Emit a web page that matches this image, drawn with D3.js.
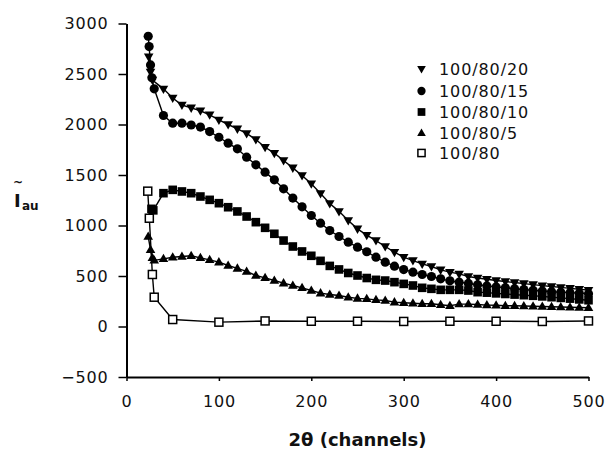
<!DOCTYPE html>
<html><head><meta charset="utf-8">
<script src="https://cdn.jsdelivr.net/npm/d3@7"></script>
<style>
html,body{margin:0;padding:0;background:#fff;}
svg{display:block;}
.tick text{font-family:"DejaVu Sans",sans-serif;font-size:16px;letter-spacing:0.8px;fill:#111;}
</style></head>
<body><svg id="c" width="606" height="450"></svg>
<script>
// ---- data ----
const seriesNames = ["100/80/20", "100/80/15", "100/80/10", "100/80/5", "100/80"];
const channels = [40,50,60,70,80,90,100,110,120,130,140,150,160,170,180,190,200,210,220,230,240,250,260,270,280,290,300,310,320,330,340,350,360,370,380,390,400,410,420,430,440,450,460,470,480,490,500];

const x20 = [24, 26, 28].concat(channels);
const y20 = [2670, 2520, 2440,
  2353, 2262, 2193, 2165, 2136, 2096, 2046, 2000, 1957, 1912, 1851, 1775, 1716, 1644, 1571, 1495, 1413, 1317, 1218, 1140, 1050, 967, 905, 851, 792, 736, 686, 653, 620, 594, 561, 538, 521, 495, 480, 468, 456, 445, 435, 425, 415, 405, 396, 387, 378, 369, 360];

const x15 = [23.5, 24.5, 26, 27.5, 30].concat(channels);
const y15 = [2874, 2772, 2590, 2462, 2353,
  2089, 2013, 2013, 1995, 1975, 1930, 1874, 1815, 1759, 1676, 1601, 1528, 1452, 1363, 1272, 1185, 1099, 1023, 950, 891, 835, 785, 740, 686, 637, 597, 564, 538, 515, 495, 472, 452, 439, 426, 413, 402, 392, 383, 374, 366, 358, 351, 345, 340, 335, 330, 325];

const x10 = [27, 29].concat(channels);
const y10 = [1165, 1150,
  1320, 1353, 1337, 1320, 1287, 1254, 1221, 1181, 1139, 1089, 1033, 977, 918, 851, 792, 743, 700, 650, 600, 565, 530, 505, 480, 462, 455, 439, 422, 406, 383, 373, 363, 363, 363, 356, 340, 335, 328, 322, 316, 310, 304, 298, 290, 283, 276, 268, 260];

const x5 = [23.5, 26, 28, 30].concat(channels);
const y5 = [891, 760, 680, 655,
  670, 686, 693, 700, 680, 660, 637, 604, 575, 545, 505, 482, 455, 429, 406, 383, 356, 330, 317, 307, 290, 278, 274, 264, 257, 241, 235, 230, 225, 225, 215, 205, 222, 222, 218, 212, 210, 206, 205, 203, 200, 198, 195, 193, 190, 188, 185];

const x0 = [23, 24.7, 28, 30, 50, 100, 150, 200, 250, 300, 350, 400, 450, 500];
const y0 = [1340, 1072, 515, 290, 69, 43, 55, 52, 52, 50, 52, 52, 50, 55];

const xTicks = [0, 100, 200, 300, 400, 500];
const yTicks = [-500, 0, 500, 1000, 1500, 2000, 2500, 3000];
const yTickLabels = ["\u2212500", "0", "500", "1000", "1500", "2000", "2500", "3000"];

// ---- drawing ----
const svg = d3.select("#c");
const x = d3.scaleLinear().domain([0, 500]).range([126.5, 588.5]);
const y = d3.scaleLinear().domain([-500, 3000]).range([377, 23.5]);

const gx = svg.append("g").attr("transform", "translate(0,377)")
  .call(d3.axisBottom(x).tickValues(xTicks).tickSize(4).tickSizeOuter(0).tickPadding(14.5));
const gy = svg.append("g").attr("transform", "translate(126.5,0)")
  .call(d3.axisLeft(y).tickValues(yTicks).tickFormat((d,i)=>yTickLabels[i]).tickSize(8).tickSizeOuter(0).tickPadding(10));
[gx, gy].forEach(g => {
  g.select(".domain").attr("stroke", "#000").attr("stroke-width", 2);
  g.selectAll(".tick line").attr("stroke", "#000").attr("stroke-width", 1.5);
});

const series = [
  {name: seriesNames[0], xs: x20, ys: y20, sym: "tdown"},
  {name: seriesNames[1], xs: x15, ys: y15, sym: "circle"},
  {name: seriesNames[2], xs: x10, ys: y10, sym: "square"},
  {name: seriesNames[3], xs: x5, ys: y5, sym: "tup"},
  {name: seriesNames[4], xs: x0, ys: y0, sym: "open"}
];

function marker(g, sym, cx, cy, s) {
  s = s || 1;
  if (sym === "circle") {
    g.append("circle").attr("cx", cx).attr("cy", cy).attr("r", 4.6*s).attr("fill", "#000");
  } else if (sym === "square") {
    const h = 4.3*s;
    g.append("rect").attr("x", cx-h).attr("y", cy-h).attr("width", 2*h).attr("height", 2*h).attr("fill", "#000");
  } else if (sym === "open") {
    const h = 4*s;
    g.append("rect").attr("x", cx-h).attr("y", cy-h).attr("width", 2*h).attr("height", 2*h)
      .attr("fill", "#fff").attr("stroke", "#000").attr("stroke-width", 1.5);
  } else if (sym === "tdown") {
    const w = 4.8*s, hh = 4.6*s;
    g.append("path").attr("d", `M${cx-w},${cy-hh*0.7}L${cx+w},${cy-hh*0.7}L${cx},${cy+hh*1.1}Z`).attr("fill", "#000");
  } else if (sym === "tup") {
    const w = 4.8*s, hh = 4.6*s;
    g.append("path").attr("d", `M${cx-w},${cy+hh*0.7}L${cx+w},${cy+hh*0.7}L${cx},${cy-hh*1.1}Z`).attr("fill", "#000");
  }
}

const line = d3.line().x(d => x(d[0])).y(d => y(d[1]));
const plot = svg.append("g");
// draw lower series first so upper ones overlap
series.slice().reverse().forEach(s => {
  const pts = s.xs.map((v, i) => [v, s.ys[i]]);
  plot.append("path").datum(pts).attr("d", line).attr("fill", "none").attr("stroke", "#000").attr("stroke-width", 1.4);
  const mg = plot.append("g");
  pts.forEach(p => marker(mg, s.sym, x(p[0]), y(p[1])));
});

// legend
const legY = [69, 91, 112, 133, 153];
const leg = svg.append("g");
series.forEach((s, i) => {
  marker(leg, s.sym, 421.5, legY[i], 0.9);
  leg.append("text").attr("x", 439).attr("y", legY[i]).attr("dy", "0.36em")
    .attr("font-family", "DejaVu Sans, sans-serif").attr("font-size", 16).attr("letter-spacing", "0.9px")
    .attr("fill", "#111").text(s.name);
});

// axis titles
svg.append("text").attr("x", 357.5).attr("y", 446).attr("text-anchor", "middle")
  .attr("font-family", "DejaVu Sans, sans-serif").attr("font-weight", "bold").attr("font-size", 18)
  .attr("fill", "#111").text("2\u03B8 (channels)");

const yl = svg.append("g").attr("font-family", "DejaVu Sans, sans-serif").attr("font-weight", "bold").attr("fill", "#111");
yl.append("text").attr("x", 14).attr("y", 207).attr("font-size", 18).text("I");
yl.append("text").attr("x", 13).attr("y", 186).attr("font-size", 12).text("~");
yl.append("text").attr("x", 22).attr("y", 210).attr("font-size", 12).text("au");
</script></body></html>
